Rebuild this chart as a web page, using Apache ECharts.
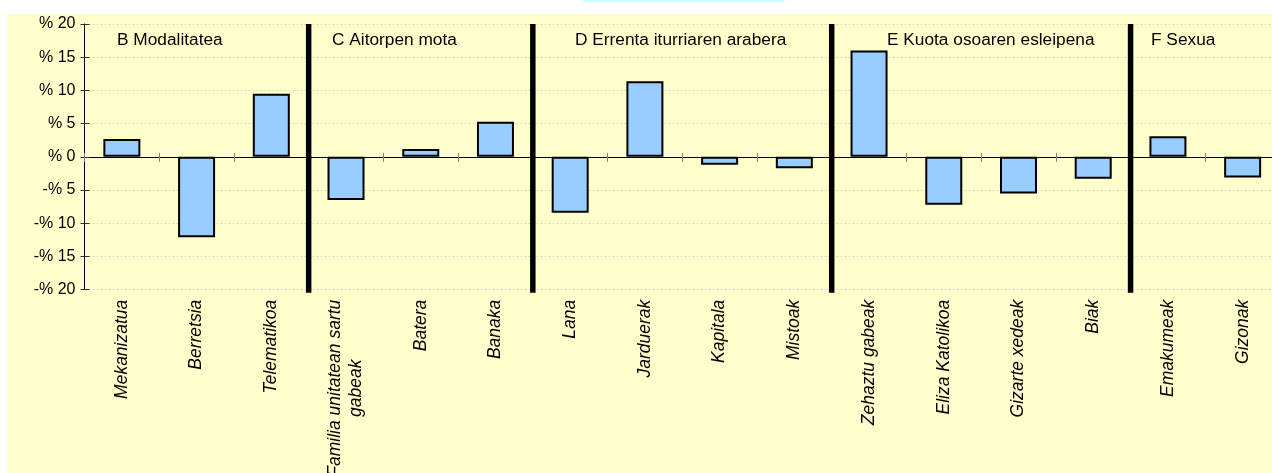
<!DOCTYPE html>
<html>
<head>
<meta charset="utf-8">
<title>Aldea taldeka</title>
<script src="https://cdn.jsdelivr.net/npm/echarts@6/dist/echarts.min.js"></script>
<style>
  html, body { margin: 0; padding: 0; background: #ffffff; overflow: hidden; }
  /* the plot runs a few pixels past the right edge of the window */
  #chart { width: 1280px; height: 473px; }
</style>
</head>
<body>
<div id="chart"></div>
<script>
// Categories, grouped by block (B..F)
const categories = [
  'Mekanizatua', 'Berretsia', 'Telematikoa',
  'Familia unitatean sartu\ngabeak', 'Batera', 'Banaka',
  'Lana', 'Jarduerak', 'Kapitala', 'Mistoak',
  'Zehaztu gabeak', 'Eliza Katolikoa', 'Gizarte xedeak', 'Biak',
  'Emakumeak', 'Gizonak'
];
// Percentage difference per category
const values = [
  2.7, -12.1, 9.5,
  -6.5, 1.2, 5.3,
  -8.4, 11.4, -1.2, -1.7,
  16.0, -7.2, -5.5, -3.3,
  3.1, -3.1
];
// Block titles and how many categories each block holds
const groupNames = [
  'B Modalitatea', 'C Aitorpen mota', 'D Errenta iturriaren arabera',
  'E Kuota osoaren esleipena', 'F Sexua'
];
const groupSizes = [3, 3, 4, 4, 2];
// Value axis ticks
const yMin = -20, yMax = 20, yStep = 5;

// Category index where each new block starts (separator positions)
const separators = [];
groupSizes.reduce((acc, n, i) => {
  if (i > 0) separators.push([acc, 0]);
  return acc + n;
}, 0);

// Left offset of each block title
const titleLefts = [117, 332, 575, 887, 1151];

const FONT = '"Liberation Sans", Arial, sans-serif';

const chart = echarts.init(document.getElementById('chart'), null, { renderer: 'canvas' });

const yLabel = v => (v < 0 ? '-% ' + (-v) : '% ' + v);

chart.setOption({
  animation: false,
  backgroundColor: '#ffffff',
  // long labels may run off the bottom edge; keep the plot size fixed
  grid: { left: 84.5, right: 0, top: 24, bottom: 183.3, containLabel: false, outerBoundsMode: 'none' },
  graphic: [
    { type: 'rect', z: -10, silent: true,
      shape: { x: 7, y: 14, width: 1273, height: 459 },
      style: { fill: '#FFFFCC' } },
    { type: 'rect', z: -10, silent: true,
      shape: { x: 583, y: 0, width: 201, height: 2 },
      style: { fill: '#CCFFFF' } }
  ].concat(groupNames.map((name, i) => ({
    type: 'text', z: 10, silent: true,
    x: titleLefts[i], y: 41, scaleX: 1.08,
    style: {
      text: name, fill: '#000000',
      font: '16px ' + FONT,
      textAlign: 'left', textVerticalAlign: 'middle'
    }
  }))),
  xAxis: [
    {
      // labels along the bottom of the plot
      type: 'category', data: categories, position: 'bottom',
      axisLine: { show: false, onZero: false },
      axisTick: { show: false },
      splitLine: { show: false },
      axisLabel: {
        rotate: 90, interval: 0, margin: 10,
        color: '#000000', fontSize: 17.5, fontStyle: 'italic', fontFamily: FONT,
        lineHeight: 21,
        formatter: v => v.split('\n').map(s => '{c|' + s + '}').join('\n'),
        rich: { c: { align: 'center', fontSize: 17.5, fontStyle: 'italic', fontFamily: FONT, color: '#000000', lineHeight: 21 } }
      }
    },
    {
      // zero line with ticks below it
      type: 'category', data: categories, position: 'bottom',
      axisLine: { show: true, onZero: true, lineStyle: { color: '#000000', width: 1 } },
      axisTick: { show: true, interval: 0, inside: false, length: 5, lineStyle: { color: '#808080' } },
      axisLabel: { show: false, interval: 0 },
      splitLine: { show: false }
    },
    {
      // ticks above the zero line
      type: 'category', data: categories, position: 'bottom',
      axisLine: { show: false, onZero: true },
      axisTick: { show: true, interval: 0, inside: true, length: 4, lineStyle: { color: '#808080' } },
      axisLabel: { show: false, interval: 0 },
      splitLine: { show: false }
    }
  ],
  yAxis: [
    {
      type: 'value', min: yMin, max: yMax, interval: yStep, position: 'left',
      axisLine: { show: true, lineStyle: { color: '#000000', width: 1 } },
      axisTick: { show: true, inside: false, length: 4, lineStyle: { color: '#333333' } },
      axisLabel: { formatter: yLabel, color: '#000000', fontSize: 16, fontFamily: FONT, margin: 9 },
      splitLine: { show: true, lineStyle: { color: '#d8d8d0', type: [2, 2], width: 1 } }
    },
    {
      type: 'value', min: yMin, max: yMax, interval: yStep, position: 'left',
      axisLine: { show: false },
      axisTick: { show: true, inside: true, length: 5, lineStyle: { color: '#333333' } },
      axisLabel: { show: false },
      splitLine: { show: false }
    }
  ],
  series: [
    {
      type: 'bar', data: values, xAxisIndex: 1, yAxisIndex: 0,
      barWidth: 37,
      itemStyle: { color: '#99CCFF', borderColor: '#000000', borderWidth: 2 },
      z: 3
    },
    {
      // thick separators between blocks
      type: 'custom', xAxisIndex: 1, yAxisIndex: 0,
      data: separators, encode: { x: 0, y: 1 }, z: 4, silent: true,
      renderItem: (params, api) => {
        const half = api.size([1, 0])[0] / 2;
        const top = api.coord([api.value(0), yMax]);
        const bottom = api.coord([api.value(0), yMin - 0.45]);
        const x = top[0] - half;
        return {
          type: 'line',
          shape: { x1: x, y1: top[1], x2: x, y2: bottom[1] },
          style: { stroke: '#000000', lineWidth: 5.5 }
        };
      }
    }
  ]
});
</script>
</body>
</html>
